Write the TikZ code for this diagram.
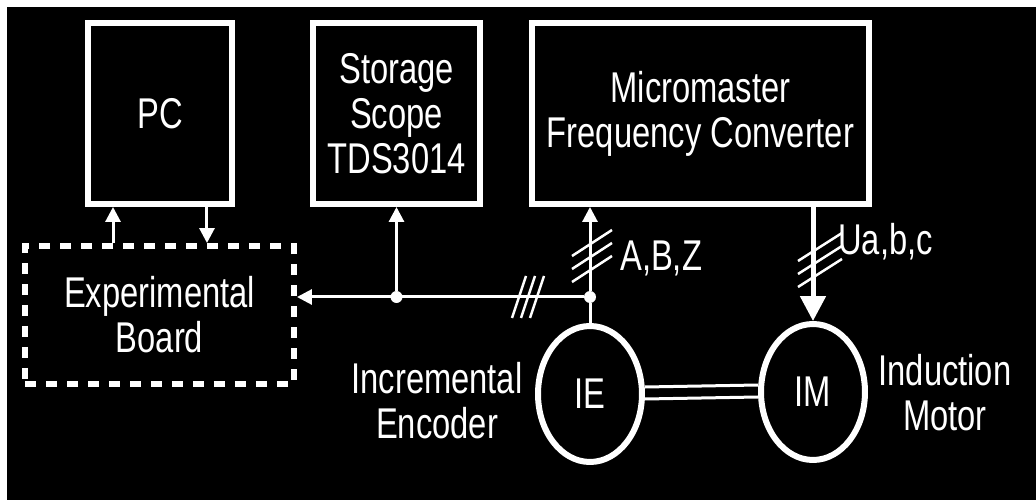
\documentclass[tikz,border=0pt]{standalone}
\usepackage{fontspec}
\setmainfont{Liberation Sans}[FakeStretch=0.76]
\usepackage{tikz}
\usetikzlibrary{
    arrows.meta,
    calc,
    shapes.geometric
}

\begin{document}
\begin{tikzpicture}[x=0.02cm, y=-0.02cm,
    font=\fontsize{24.5}{25.6}\selectfont,
    box/.style={draw=white, line width=0.12cm, minimum width=#1,
                minimum height=3.62cm, inner sep=0pt, align=center, text=white},
    dbox/.style={draw=white, line width=0.12cm, dash pattern=on 0.22cm off 0.2cm,
                minimum width=5.38cm, minimum height=2.76cm, align=center, text=white},
    mach/.style={ellipse, draw=white, line width=0.12cm, minimum width=2.08cm,
                minimum height=2.72cm, inner sep=0pt, text=white},
    dot/.style={circle, fill=white, inner sep=0pt, minimum size=0.24cm},
    arr/.style={-{Triangle[length=0.3cm, width=0.3cm]}, white, line width=0.06cm},
    arrU/.style={-{Triangle[length=0.5cm, width=0.5cm]}, white, line width=0.1cm},
    wire/.style={white, line width=0.06cm},
    tick/.style={white, line width=0.05cm},
    lbl/.style={text=white, align=center}
  ]
    \useasboundingbox (0,0) rectangle (1036,500);
    \fill[white] (0,0) rectangle (1036,500);
    \fill[black] (7,7) rectangle (1036,500);

    \node[box=2.88cm](pc)    at (160,113.5) {PC};
    \node[box=3.34cm](scope) at (396.5,113.5) {Storage\\Scope\\TDS3014};
    \node[box=6.74cm](mm)    at (700.5,113.5) {Micromaster\\Frequency Converter};
    \node[dbox](board)       at (159.5,315) {Experimental\\Board};
    \node[mach](ie) at (590,394) {IE};
    \node[mach](im) at (813,392) {IM};
    \node[dot](j1) at (396.5,297) {};
    \node[dot](j2) at (590,297) {};
    \coordinate (ua) at (mm.south -| im.north);

    \draw[arr]([xshift=-0.94cm]pc.south |- board.north)--([xshift=-0.94cm]pc.south);
    \draw[arr]([xshift=0.94cm]pc.south)--([xshift=0.94cm]pc.south |- board.north);
    \draw[arr](j1)--(scope);
    \draw[arr](j2)--(j2 -| board.east);
    \draw[wire](ie.north)--(j2);
    \draw[arr](j2)--(mm.south -| j2);
    \draw[arrU](ua)--(im.north);
    \draw[wire]([yshift=0.14cm]ie.east)--([yshift=0.14cm]im.west);
    \draw[wire]([yshift=-0.1cm]ie.east)--([yshift=-0.1cm]im.west);

    \foreach \s in {-9,0,9}
      \draw[tick]([shift={(\s-69,21)}]j2.center)--([shift={(\s-55,-21)}]j2.center);
    \foreach \s in {-54,-41,-28}
      \draw[tick]([shift={(-18,\s+13)}]j2.center)--([shift={(22,\s-13)}]j2.center);
    \foreach \s in {40,53,66}
      \draw[tick]([shift={(-15,\s+14)}]ua)--([shift={(29,\s-14)}]ua);

    \node[lbl, anchor=west](abz) at (614,258) {A,B,Z};
    \node[lbl, anchor=west](uabc) at (832,242) {Ua,b,c};
    \node[lbl](ielbl) at (437,401) {Incremental\\Encoder};
    \node[lbl](imlbl) at (945,393) {Induction\\Motor};
  \end{tikzpicture}
\end{document}
